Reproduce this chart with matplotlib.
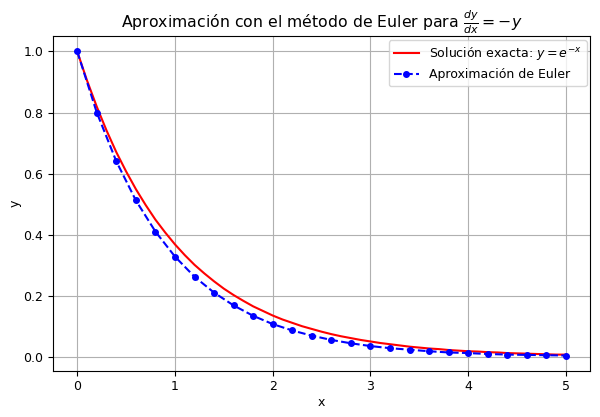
import numpy as np
import matplotlib
matplotlib.use("Agg")
from matplotlib import pyplot as plt

# valores
x_exact = np.linspace(0, 5, 51)
y_exact = [1.0, 0.905, 0.819, 0.741, 0.670, 0.607, 0.549, 0.497, 0.449, 0.407,
           0.368, 0.333, 0.301, 0.273, 0.247, 0.223, 0.202, 0.183, 0.165, 0.150,
           0.135, 0.122, 0.111, 0.100, 0.091, 0.082, 0.074, 0.067, 0.061, 0.055,
           0.050, 0.045, 0.041, 0.037, 0.033, 0.030, 0.027, 0.025, 0.022, 0.020,
           0.018, 0.017, 0.015, 0.014, 0.012, 0.011, 0.010, 0.009, 0.008, 0.007,
           0.007]

x_euler = np.linspace(0, 5, 26)
y_euler = [1.0, 0.8, 0.64, 0.512, 0.41, 0.328, 0.262, 0.21, 0.168, 0.134,
           0.107, 0.086, 0.069, 0.055, 0.044, 0.035, 0.028, 0.023, 0.018, 0.014,
           0.012, 0.009, 0.007, 0.006, 0.005, 0.004]

plt.rcParams['font.size'] = 9

fig = plt.figure(figsize=(6, 4.17), dpi=100)
plt.plot(x_exact, y_exact, c='red', label=r'Solución exacta: $y = e^{-x}$')
plt.plot(x_euler, y_euler, 'o--', c='blue', markersize=4, label='Aproximación de Euler')
plt.title(r'Aproximación con el método de Euler para $\frac{dy}{dx} = -y$', fontsize=11.3)
plt.xlabel('x', labelpad=2)
plt.ylabel('y', labelpad=1)
plt.legend(loc='upper right', borderaxespad=0.3)
plt.grid()
plt.subplots_adjust(left=0.088, right=0.984, top=0.913, bottom=0.111)
fig.savefig('out.png')
plt.close(fig)
